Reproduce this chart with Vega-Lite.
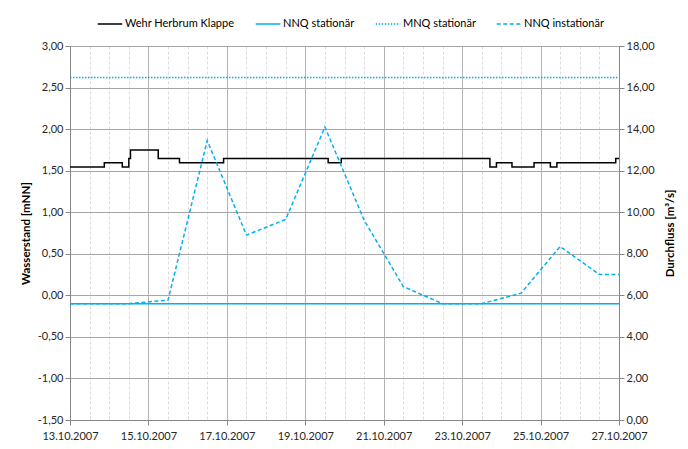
{
  "$schema": "https://vega.github.io/schema/vega-lite/v6.json",
  "width": 549,
  "height": 374,
  "autosize": {"type": "none"},
  "padding": {"left": 70, "top": 46, "right": 69, "bottom": 29},
  "background": "white",
  "config": {
    "view": {"stroke": null},
    "font": "Lato",
    "axis": {
      "labelFont": "Lato",
      "labelFontSize": 11,
      "labelColor": "#262626",
      "titleFont": "Lato",
      "titleFontSize": 11.5,
      "titleFontWeight": "bold",
      "titleColor": "#000000",
      "domainColor": "#868686",
      "tickColor": "#868686",
      "tickSize": 5
    }
  },
  "data": {
    "values": [
      {"series": "Wehr Herbrum Klappe", "t": "2007-10-13T00:00:00Z", "v": 1.545},
      {"series": "Wehr Herbrum Klappe", "t": "2007-10-13T21:00:00Z", "v": 1.595},
      {"series": "Wehr Herbrum Klappe", "t": "2007-10-14T08:00:00Z", "v": 1.545},
      {"series": "Wehr Herbrum Klappe", "t": "2007-10-14T12:00:00Z", "v": 1.645},
      {"series": "Wehr Herbrum Klappe", "t": "2007-10-14T13:00:00Z", "v": 1.75},
      {"series": "Wehr Herbrum Klappe", "t": "2007-10-15T06:00:00Z", "v": 1.645},
      {"series": "Wehr Herbrum Klappe", "t": "2007-10-15T19:00:00Z", "v": 1.595},
      {"series": "Wehr Herbrum Klappe", "t": "2007-10-16T22:00:00Z", "v": 1.645},
      {"series": "Wehr Herbrum Klappe", "t": "2007-10-19T14:00:00Z", "v": 1.595},
      {"series": "Wehr Herbrum Klappe", "t": "2007-10-19T22:00:00Z", "v": 1.645},
      {"series": "Wehr Herbrum Klappe", "t": "2007-10-23T17:00:00Z", "v": 1.545},
      {"series": "Wehr Herbrum Klappe", "t": "2007-10-23T21:00:00Z", "v": 1.595},
      {"series": "Wehr Herbrum Klappe", "t": "2007-10-24T06:30:00Z", "v": 1.545},
      {"series": "Wehr Herbrum Klappe", "t": "2007-10-24T20:00:00Z", "v": 1.595},
      {"series": "Wehr Herbrum Klappe", "t": "2007-10-25T06:00:00Z", "v": 1.545},
      {"series": "Wehr Herbrum Klappe", "t": "2007-10-25T10:00:00Z", "v": 1.595},
      {"series": "Wehr Herbrum Klappe", "t": "2007-10-26T22:00:00Z", "v": 1.645},
      {"series": "Wehr Herbrum Klappe", "t": "2007-10-27T00:00:00Z", "v": 1.645},
      {"series": "NNQ stationär", "t": "2007-10-13T00:00:00Z", "v": 5.6},
      {"series": "NNQ stationär", "t": "2007-10-27T00:00:00Z", "v": 5.6},
      {"series": "MNQ stationär", "t": "2007-10-13T00:00:00Z", "v": 16.48},
      {"series": "MNQ stationär", "t": "2007-10-27T00:00:00Z", "v": 16.48},
      {"series": "NNQ instationär", "t": "2007-10-13T00:00:00Z", "v": 5.6},
      {"series": "NNQ instationär", "t": "2007-10-13T12:00:00Z", "v": 5.6},
      {"series": "NNQ instationär", "t": "2007-10-14T12:00:00Z", "v": 5.6},
      {"series": "NNQ instationär", "t": "2007-10-15T12:00:00Z", "v": 5.77},
      {"series": "NNQ instationär", "t": "2007-10-16T12:00:00Z", "v": 13.45},
      {"series": "NNQ instationär", "t": "2007-10-17T12:00:00Z", "v": 8.9},
      {"series": "NNQ instationär", "t": "2007-10-18T12:00:00Z", "v": 9.65},
      {"series": "NNQ instationär", "t": "2007-10-19T12:00:00Z", "v": 14.1},
      {"series": "NNQ instationär", "t": "2007-10-20T12:00:00Z", "v": 9.62},
      {"series": "NNQ instationär", "t": "2007-10-21T12:00:00Z", "v": 6.42},
      {"series": "NNQ instationär", "t": "2007-10-22T12:00:00Z", "v": 5.6},
      {"series": "NNQ instationär", "t": "2007-10-23T12:00:00Z", "v": 5.6},
      {"series": "NNQ instationär", "t": "2007-10-24T12:00:00Z", "v": 6.1},
      {"series": "NNQ instationär", "t": "2007-10-25T12:00:00Z", "v": 8.35},
      {"series": "NNQ instationär", "t": "2007-10-26T12:00:00Z", "v": 7.0},
      {"series": "NNQ instationär", "t": "2007-10-27T00:00:00Z", "v": 7.0}
    ]
  },
  "encoding": {
    "x": {
      "field": "t",
      "type": "temporal",
      "scale": {"type": "utc", "domain": [1192233600000, 1193443200000], "nice": false},
      "axis": {
        "title": null,
        "values": [1192233600000, 1192276800000, 1192320000000, 1192363200000, 1192406400000, 1192449600000, 1192492800000, 1192536000000, 1192579200000, 1192622400000, 1192665600000, 1192708800000, 1192752000000, 1192795200000, 1192838400000, 1192881600000, 1192924800000, 1192968000000, 1193011200000, 1193054400000, 1193097600000, 1193140800000, 1193184000000, 1193227200000, 1193270400000, 1193313600000, 1193356800000, 1193400000000, 1193443200000],
        "labelExpr": "(utchours(datum.value) == 0 && utcdate(datum.value) % 2 == 1) ? utcFormat(datum.value, '%d.%m.%Y') : ''",
        "labelOverlap": false,
        "labelFlush": false,
        "labelBound": false,
        "labelPadding": 5,
        "grid": true,
        "gridColor": {"condition": {"test": "utchours(datum.value) == 0 && utcdate(datum.value) % 2 == 1", "value": "#b4b4b4"}, "value": "#dcdcdc"},
        "gridDash": {"condition": {"test": "utchours(datum.value) == 0 && utcdate(datum.value) % 2 == 1", "value": []}, "value": [3, 2]},
        "tickOpacity": {"condition": {"test": "utchours(datum.value) == 0 && utcdate(datum.value) % 2 == 1", "value": 1}, "value": 0}
      }
    }
  },
  "layer": [
    {
      "transform": [{"filter": "datum.series == 'Wehr Herbrum Klappe'"}],
      "mark": {"type": "line", "interpolate": "step-after", "strokeWidth": 1.5},
      "encoding": {
        "y": {
          "field": "v",
          "type": "quantitative",
          "scale": {"domain": [-1.5, 3], "nice": false, "zero": false},
          "axis": {
            "orient": "left",
            "title": "Wasserstand [mNN]",
            "values": [-1.5, -1, -0.5, 0, 0.5, 1, 1.5, 2, 2.5, 3],
            "labelExpr": "replace(replace(format(datum.value, '.2f'), '.', ','), '\u2212', '-')",
            "grid": true,
            "gridColor": "#a6a6a6",
            "titlePadding": 6
          }
        },
        "color": {
          "field": "series",
          "type": "nominal",
          "scale": {"domain": ["Wehr Herbrum Klappe", "NNQ stationär", "MNQ stationär", "NNQ instationär"], "range": ["#000000", "#00b0f0", "#00b0f0", "#00b0f0"]},
          "legend": {"title": null, "orient": "none", "legendX": 27, "legendY": -35, "direction": "horizontal", "symbolType": "stroke", "symbolSize": 600, "symbolStrokeWidth": 1.5, "labelFontSize": 11, "labelFont": "Lato", "labelColor": "#000000", "columnPadding": 17, "labelOffset": 2}
        },
        "strokeDash": {
          "field": "series",
          "type": "nominal",
          "scale": {"domain": ["Wehr Herbrum Klappe", "NNQ stationär", "MNQ stationär", "NNQ instationär"], "range": [[1, 0], [1, 0], [1.5, 1.5], [4, 2.5]]},
          "legend": {"title": null, "orient": "none", "legendX": 27, "legendY": -35, "direction": "horizontal", "symbolType": "stroke", "symbolSize": 600, "symbolStrokeWidth": 1.5, "labelFontSize": 11, "labelFont": "Lato", "labelColor": "#000000", "columnPadding": 17, "labelOffset": 2}
        }
      }
    },
    {
      "transform": [{"filter": "datum.series != 'Wehr Herbrum Klappe'"}],
      "mark": {"type": "line", "strokeWidth": 1.5},
      "encoding": {
        "y": {
          "field": "v",
          "type": "quantitative",
          "scale": {"domain": [0, 18], "nice": false, "zero": false},
          "axis": {
            "orient": "right",
            "title": "Durchfluss [m³/s]",
            "titleAngle": 270,
            "values": [0, 2, 4, 6, 8, 10, 12, 14, 16, 18],
            "labelExpr": "replace(format(datum.value, '.2f'), '.', ',')",
            "grid": false,
            "titlePadding": 21
          }
        },
        "color": {"field": "series", "type": "nominal"},
        "strokeDash": {"field": "series", "type": "nominal"}
      }
    }
  ],
  "resolve": {"scale": {"y": "independent"}}
}
